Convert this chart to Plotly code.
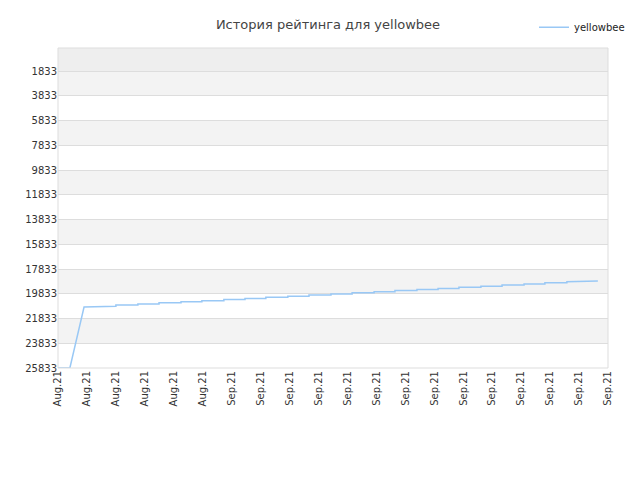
import plotly.graph_objects as go

tick_labels = ["Aug.21"] * 6 + ["Sep.21"] * 14
tick_pos = list(range(20))
y_ticks = [1833 + 2000 * i for i in range(13)]

# change points (time, rank); first segment is a linear rise, the rest are steps
rise_x = [0.0, 0.41, 0.9]
rise_y = [25833, 25833, 20900]
step_x = [1.28, 2.0, 2.76, 3.49, 4.25, 4.97, 5.73, 6.46, 7.18, 7.94, 8.67,
          9.43, 10.16, 10.92, 11.64, 12.4, 13.13, 13.85, 14.61, 15.34, 16.1, 16.82,
          17.58, 18.31]
step_y = [20840, 20750, 20660, 20570, 20480, 20390, 20300, 20210, 20120, 20030, 19940,
          19850, 19760, 19670, 19580, 19490, 19400, 19310, 19220, 19130, 19040,
          18950, 18860, 18800]
end_x = 18.65

xs = list(rise_x)
ys = list(rise_y)
for sx, sy in zip(step_x, step_y):
    xs += [sx, sx]
    ys += [ys[-1], sy]
xs.append(end_x)
ys.append(ys[-1])

fig = go.Figure()
fig.add_trace(go.Scatter(x=xs, y=ys, mode="lines", line=dict(color="#99c8f5", width=1.5),
                         name="yellowbee"))

shapes = [dict(type="rect", xref="paper", x0=0, x1=1, yref="y", y0=-26, y1=1833,
               fillcolor="#eeeeee", line_width=0, layer="below")]
for i, y0 in enumerate(y_ticks[:-1]):
    if i % 2 == 0:
        shapes.append(dict(type="rect", xref="paper", x0=0, x1=1, yref="y", y0=y0, y1=y0 + 2000,
                           fillcolor="#f3f3f3", line_width=0, layer="below"))
shapes.append(dict(type="rect", xref="paper", x0=0, x1=1, yref="paper", y0=0, y1=1,
                   line=dict(color="#dddddd", width=1)))

fig.update_layout(
    width=640, height=480, plot_bgcolor="white", paper_bgcolor="white",
    margin=dict(l=50, r=40, t=40, b=120, autoexpand=False),
    title=dict(text="История рейтинга для yellowbee", x=0.5, y=0.975, xanchor="center",
               font=dict(family="DejaVu Sans", size=13, color="#444")),
    showlegend=True,
    legend=dict(x=1.04, y=1.11, xanchor="right", yanchor="top", orientation="h",
                font=dict(family="DejaVu Sans", size=10, color="#222"), bgcolor="rgba(0,0,0,0)"),
    shapes=shapes,
    font=dict(family="DejaVu Sans", size=10, color="#333"),
)
fig.update_xaxes(range=[0, 19], tickvals=tick_pos, ticktext=tick_labels, tickangle=-90,
                 showgrid=False, zeroline=False, showline=False, ticks="", automargin=False)
fig.update_yaxes(range=[25833, -26], tickvals=y_ticks, ticktext=[str(v) for v in y_ticks],
                 showgrid=True, gridcolor="#dddddd", zeroline=False, showline=False, ticks="",
                 automargin=False)
fig.write_html("out.html")
